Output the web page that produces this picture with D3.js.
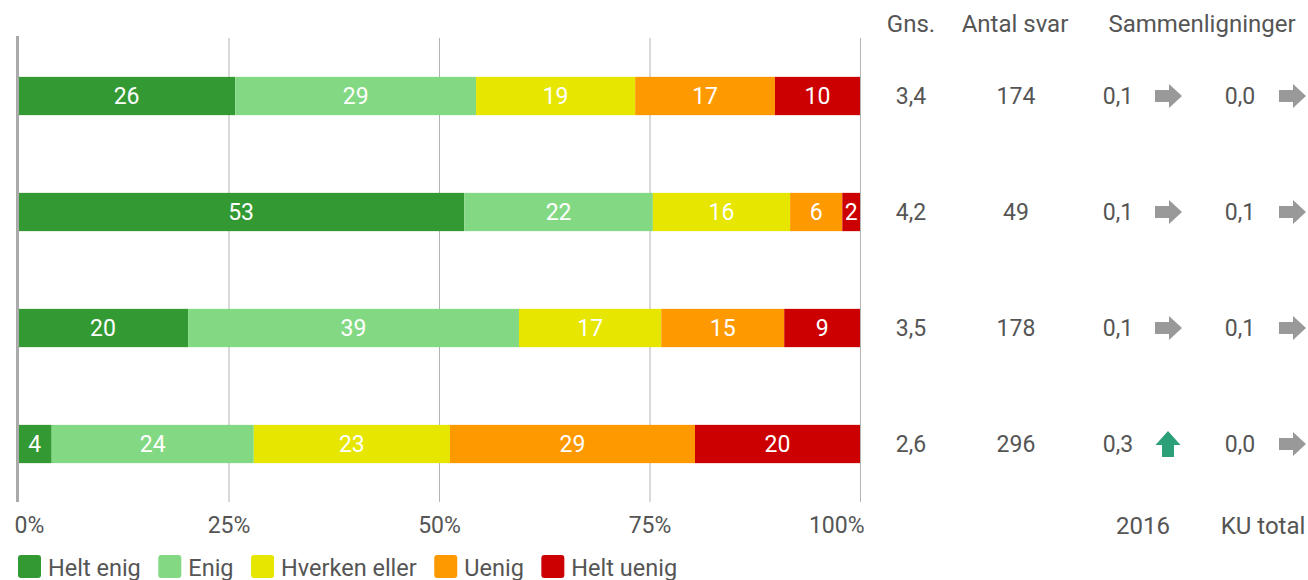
<!DOCTYPE html>
<html>
<head>
<meta charset="utf-8">
<script src="https://cdn.jsdelivr.net/npm/d3@7"></script>
<style>
  html, body { margin: 0; padding: 0; background: #fff; }
  svg { display: block; font-family: Roboto, "Noto Sans", sans-serif; }
</style>
</head>
<body>
<svg id="chart" width="1308" height="580"></svg>
<script>
// ---- data ----
const categories = ["Spørgsmål 1", "Spørgsmål 2", "Spørgsmål 3", "Spørgsmål 4"];
const seriesNames = ["Helt enig", "Enig", "Hverken eller", "Uenig", "Helt uenig"];
const seriesColors = ["#339933", "#83d983", "#e6e600", "#ff9900", "#cc0000"];
const heltEnig   = [25.8, 53.0, 20.2, 4.0];
const enig       = [28.6, 22.4, 39.3, 24.0];
const hverken    = [18.9, 16.3, 16.9, 23.3];
const uenig      = [16.6, 6.2, 14.6, 29.1];
const heltUenig  = [10.1, 2.1, 9.0, 19.6];
const gns        = ["3,4", "4,2", "3,5", "2,6"];
const antalSvar  = ["174", "49", "178", "296"];
const comp2016   = ["0,1", "0,1", "0,1", "0,3"];
const trend2016  = ["flat", "flat", "flat", "up"];
const compKU     = ["0,0", "0,1", "0,1", "0,0"];
const trendKU    = ["flat", "flat", "flat", "flat"];
const xTicks     = [0, 25, 50, 75, 100];
const headers    = ["Gns.", "Antal svar", "Sammenligninger"];
const footers    = ["2016", "KU total"];

// ---- setup ----
const svg = d3.select("#chart");
const textColor = "#555555";
const fontSize = 23;
const bigFont = 24;
const legendFont = 23.5;

const x = d3.scaleLinear().domain([0, 100]).range([18, 860]);
const y = d3.scaleBand().domain(categories).range([38, 502])
  .paddingInner(0.67).paddingOuter(0.335);

const seriesData = [heltEnig, enig, hverken, uenig, heltUenig];
const rows = categories.map((c, i) => {
  const r = { cat: c };
  seriesNames.forEach((s, j) => r[s] = seriesData[j][i]);
  return r;
});
const stack = d3.stack().keys(seriesNames).offset(d3.stackOffsetExpand);
const stacked = stack(rows);

// gridlines
const grid = svg.append("g").attr("transform", `translate(0,502)`)
  .call(d3.axisBottom(x).tickValues(xTicks.slice(1)).tickSize(-464).tickFormat(""));
grid.select(".domain").remove();
grid.selectAll(".tick line").attr("stroke", "#b3b3b3").attr("stroke-width", 1);

// bars
const color = d3.scaleOrdinal().domain(seriesNames).range(seriesColors);
const layers = svg.append("g").selectAll("g").data(stacked).join("g")
  .attr("fill", d => color(d.key));
layers.selectAll("rect").data(d => d.map(p => ({ p, key: d.key })))
  .join("rect")
  .attr("x", d => x(d.p[0] * 100))
  .attr("width", d => x(d.p[1] * 100) - x(d.p[0] * 100))
  .attr("y", d => y(d.p.data.cat))
  .attr("height", y.bandwidth());

// bar labels
layers.selectAll("text").data(d => d.map(p => ({ p, key: d.key })))
  .join("text")
  .attr("x", d => (x(d.p[0] * 100) + x(d.p[1] * 100)) / 2)
  .attr("y", d => y(d.p.data.cat) + y.bandwidth() / 2)
  .attr("dy", "0.35em")
  .attr("text-anchor", "middle")
  .attr("fill", "#ffffff")
  .attr("font-size", fontSize)
  .text(d => d3.format(".0f")(d.p.data[d.key]));

// zero axis line
svg.append("line")
  .attr("x1", x(0) - 0.5).attr("x2", x(0) - 0.5)
  .attr("y1", 36).attr("y2", 502)
  .attr("stroke", "#aaaaaa").attr("stroke-width", 3);

// x axis labels
const xAxis = svg.append("g").attr("transform", `translate(0,502)`)
  .call(d3.axisBottom(x).tickValues(xTicks).tickSize(0).tickFormat(d => d + "%"));
xAxis.select(".domain").remove();
xAxis.selectAll(".tick text")
  .attr("font-size", fontSize).attr("fill", textColor)
  .attr("font-family", "Roboto, sans-serif")
  .attr("y", 31).attr("dy", 0);
xAxis.selectAll(".tick").filter(d => d === 0).select("text")
  .attr("text-anchor", "start").attr("x", -4);
xAxis.selectAll(".tick").filter(d => d === 100).select("text")
  .attr("text-anchor", "end").attr("x", 4);

// right-hand columns
const colX = { gns: 911, antal: 1016, c1: 1118, a1: 1168, c2: 1240, a2: 1292 };
const hdr = svg.append("g").attr("font-size", bigFont).attr("fill", textColor).attr("text-anchor", "middle");
hdr.append("text").attr("x", colX.gns).attr("y", 32).text(headers[0]);
hdr.append("text").attr("x", 1015).attr("y", 32).text(headers[1]);
hdr.append("text").attr("x", 1202).attr("y", 32).text(headers[2]);
hdr.append("text").attr("x", 1143).attr("y", 534).text(footers[0]);
hdr.append("text").attr("x", 1263).attr("y", 534).text(footers[1]);

const cols = svg.append("g").attr("font-size", fontSize).attr("fill", textColor).attr("text-anchor", "middle");
function colText(arr, cx) {
  cols.append("g").selectAll("text").data(arr).join("text")
    .attr("x", cx)
    .attr("y", (d, i) => y(categories[i]) + y.bandwidth() / 2)
    .attr("dy", "0.35em")
    .text(d => d);
}
colText(gns, colX.gns);
colText(antalSvar, colX.antal);
colText(comp2016, colX.c1);
colText(compKU, colX.c2);

// arrows
const rightArrow = "M-13,-6 L1,-6 L1,-12 L14,0 L1,12 L1,6 L-13,6 Z";
const upArrow = "M-6,13 L-6,1 L-12.5,1 L0,-13 L12.5,1 L6,1 L6,13 Z";
function arrows(trend, cx) {
  svg.append("g").selectAll("path").data(trend).join("path")
    .attr("transform", (d, i) => `translate(${cx},${y(categories[i]) + y.bandwidth() / 2})`)
    .attr("d", d => d === "up" ? upArrow : rightArrow)
    .attr("fill", d => d === "up" ? "#2ba078" : "#999999");
}
arrows(trend2016, colX.a1);
arrows(trendKU, colX.a2);

// legend
const legend = svg.append("g").attr("font-size", legendFont);
let lx = 18;
seriesNames.forEach((s, i) => {
  const g = legend.append("g").attr("transform", `translate(${lx},555)`);
  g.append("rect").attr("width", 23).attr("height", 23).attr("rx", 3).attr("fill", seriesColors[i]);
  const t = g.append("text").attr("x", 30).attr("y", 21).attr("fill", textColor).text(s);
  lx += 30 + t.node().getComputedTextLength() + 17.5;
});
</script>
</body>
</html>
